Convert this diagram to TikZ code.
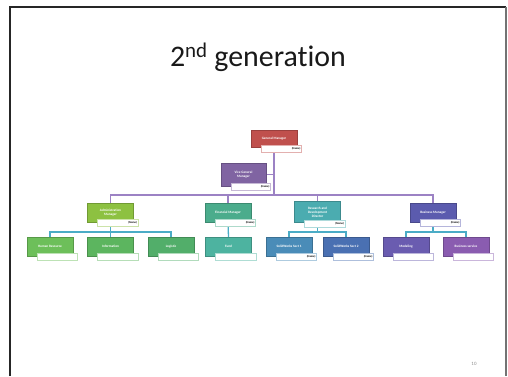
\documentclass[tikz,border=0pt]{standalone}
\usepackage{fontspec}
\setmainfont{Carlito}[Ligatures=NoCommon]
\usetikzlibrary{calc,positioning}
\pgfdeclarelayer{background}
\pgfsetlayers{background,main}

\definecolor{cRed}{HTML}{C0504D}
\definecolor{cVice}{HTML}{8064A2}
\definecolor{cAdm}{HTML}{8DC141}
\definecolor{cFin}{HTML}{4BAC8C}
\definecolor{cRnd}{HTML}{4BACB0}
\definecolor{cBiz}{HTML}{5B5BAE}
\definecolor{cHr}{HTML}{6DBF5A}
\definecolor{cInfo}{HTML}{5CB55F}
\definecolor{cLog}{HTML}{52AE6A}
\definecolor{cFund}{HTML}{4DB3A0}
\definecolor{cSw1}{HTML}{4A8CB8}
\definecolor{cSw2}{HTML}{4A70B2}
\definecolor{cMod}{HTML}{6A5CB0}
\definecolor{cSrv}{HTML}{8A5CB0}
\definecolor{cBus}{HTML}{9C82C4}
\definecolor{cSub}{HTML}{4BACC6}

\tikzset{
  unit/.style={draw=#1!80!black, line width=0.4bp, fill=#1, text=white,
    minimum width=46bp, minimum height=19bp, inner sep=1bp, align=center,
    font=\fontsize{3.4}{4}\selectfont\bfseries},
  namebox/.style={draw=#1!45, line width=0.5bp, fill=white,
    minimum height=7bp, inner sep=0.5bp, anchor=north west,
    font=\fontsize{2.8}{3}\selectfont\bfseries, text=black},
  busline/.style={draw=cBus, line width=1.6bp},
  subline/.style={draw=cSub, line width=1.3bp},
}

% sub-box attached under a unit: \namefor{unit}{colour}{text}
\newcommand{\namefor}[3]{%
  \path let \p1=(#1.south west), \p2=(#1.south east) in
    node[namebox=#2, minimum width={\x2-\x1-6bp}, text width={\x2-\x1-8bp}, align=right]
      (#1-nm) at ($(\x1,\y1)+(10bp,3bp)$) {#3};}

\begin{document}
\begin{tikzpicture}[x=1bp,y=-1bp]
\useasboundingbox (0,0) rectangle (508,376);

% slide frame
\draw[black!85, line width=2bp] (10,376) -- (10,7) -- (506,7);
\draw[black!55, line width=1.2bp] (506,7) -- (506,376);

% title and page number
\node[anchor=base, font=\fontsize{30}{34}\selectfont, text=black!90] (title) at (258,66)
  {2\textsuperscript{nd} generation};
\node[font=\fontsize{5}{6}\selectfont, text=black!45] (page) at (474,364) {10};

% top of the chart
\node[unit=cRed, minimum height=17bp] (gm) at (274,139) {General Manager};
\node[unit=cVice, minimum height=23bp, minimum width=45bp] (vgm) at (243.5,174.5) {Vice General\\Manager};

% department heads
\node[unit=cAdm] (adm) at (110.5,212.5) {Administration\\Manager};
\node[unit=cFin] (fin) at (228,212.5) {Financial Manager};
\node[unit=cRnd, minimum height=21bp] (rnd) at (317.5,212) {Research and\\Development\\Director};
\node[unit=cBiz] (biz) at (433,212.5) {Business Manager};

% sections
\node[unit=cHr] (hr) at (50,246.5) {Human Resource};
\node[unit=cInfo] (info) at (110.5,246.5) {Information};
\node[unit=cLog] (log) at (171,246.5) {Logistic};
\node[unit=cFund] (fund) at (228.5,246.5) {Fund};
\node[unit=cSw1] (sw1) at (289,246.5) {SolidWorks Sect 1};
\node[unit=cSw2] (sw2) at (346,246.5) {SolidWorks Sect 2};
\node[unit=cMod] (mod) at (406,246.5) {Modeling};
\node[unit=cSrv] (srv) at (466,246.5) {Business service};

% name boxes
\namefor{gm}{cRed}{(Name)}
\namefor{vgm}{cVice}{(Name)}
\namefor{adm}{cAdm}{(Name)}
\namefor{fin}{cFin}{(Name)}
\namefor{rnd}{cRnd}{(Name)}
\namefor{biz}{cBiz}{(Name)}
\namefor{hr}{cHr}{}
\namefor{info}{cInfo}{}
\namefor{log}{cLog}{}
\namefor{fund}{cFund}{}
\namefor{sw1}{cSw1}{(Name)}
\namefor{sw2}{cSw2}{(Name)}
\namefor{mod}{cMod}{}
\namefor{srv}{cSrv}{}

% connectors, drawn beneath the boxes
\begin{pgfonlayer}{background}
  \coordinate (bus) at (274,195);
  \draw[busline] (gm.south) -- (gm.south |- bus);
  \draw[busline] (vgm.east) -- (vgm.east -| gm.south);
  \draw[busline] (adm.north) -- (adm.north |- bus) -| (biz.north);
  \draw[busline] (fin.north) -- (fin.north |- bus);
  \draw[busline] (rnd.north) -- (rnd.north |- bus);

  \coordinate (sbus) at (0,232);
  \draw[subline] (adm.south) -- (adm.south |- sbus);
  \draw[subline] (hr.north) -- (hr.north |- sbus) -| (log.north);
  \draw[subline] (info.north) -- (info.north |- sbus);
  \draw[subline] (fin.south) -- (fund.north);
  \draw[subline] (rnd.south) -- (rnd.south |- sbus);
  \draw[subline] (sw1.north) -- (sw1.north |- sbus) -| (sw2.north);
  \draw[subline] (biz.south) -- (biz.south |- sbus);
  \draw[subline] (mod.north) -- (mod.north |- sbus) -| (srv.north);
\end{pgfonlayer}
\end{tikzpicture}
\end{document}
